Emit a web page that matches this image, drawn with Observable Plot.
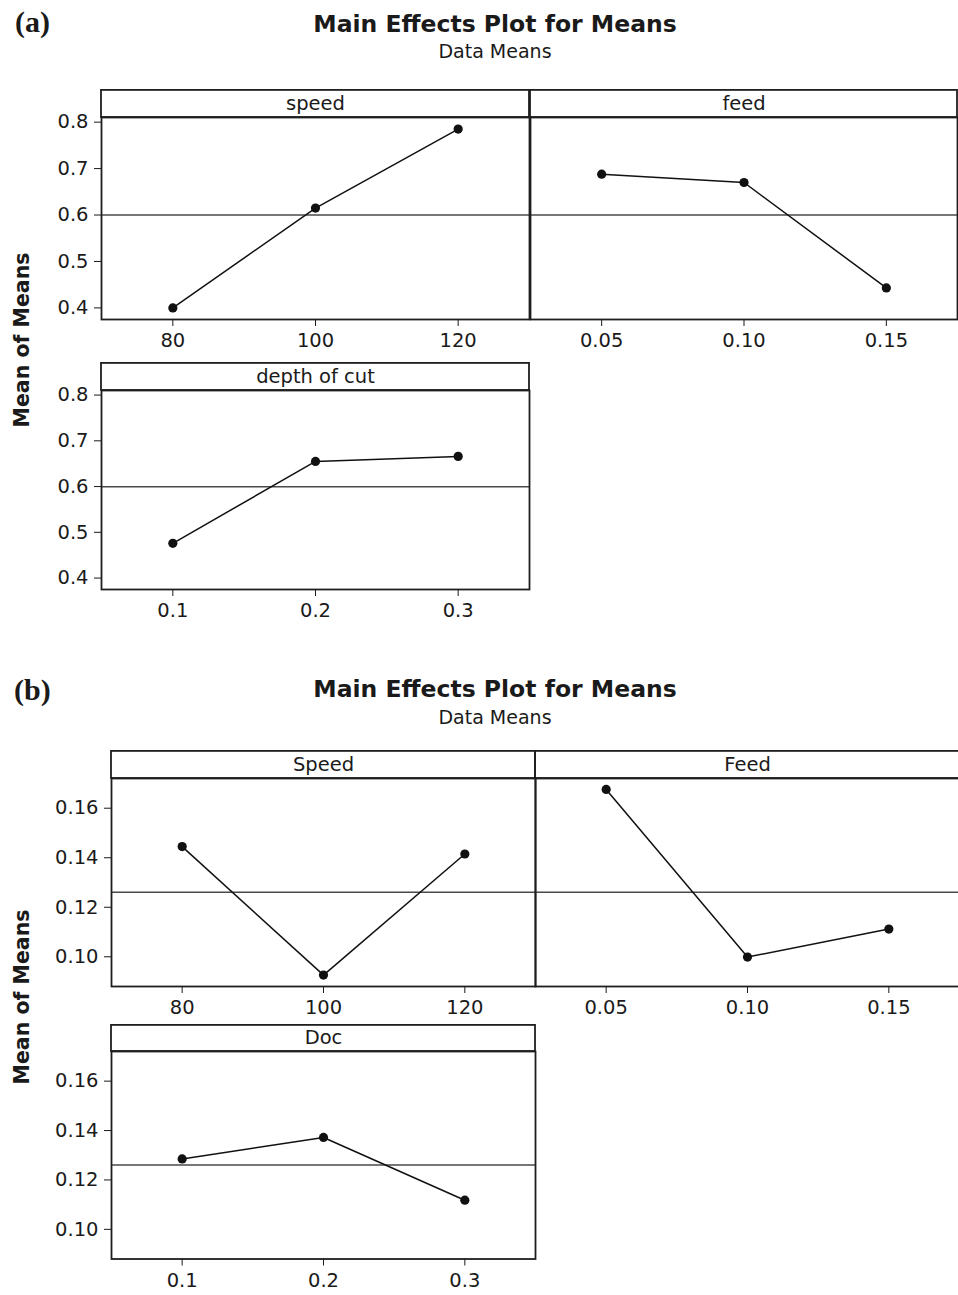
<!DOCTYPE html>
<html>
<head>
<meta charset="utf-8">
<script src="https://cdn.jsdelivr.net/npm/d3@7"></script>
<script src="https://cdn.jsdelivr.net/npm/@observablehq/plot@0.6"></script>
<style>
  html, body { margin: 0; padding: 0; background: #fff; }
  #page { position: relative; width: 958px; height: 1295px; overflow: hidden; font-family: "DejaVu Sans", sans-serif; color: #1a1a1a; }
  .abs { position: absolute; white-space: nowrap; line-height: 1; }
  .title { font-weight: bold; font-size: 23.5px; transform: translateX(-50%); }
  .subtitle { font-size: 19px; transform: translateX(-50%); }
  .tag { font-family: "Liberation Serif", serif; font-weight: bold; font-size: 30px; }
  .ylab { font-weight: bold; font-size: 20.5px; transform: translate(-50%, -50%) rotate(-90deg); }
  .panel { position: absolute; overflow: visible; }
  .panel text { font-size: 19.5px; }
</style>
</head>
<body>
<div id="page"></div>
<script>
// Factor levels
const speedLevels = [80, 100, 120];
const feedLevels = [0.05, 0.10, 0.15];
const docLevels = [0.1, 0.2, 0.3];

// (a) data means per level
const aSpeedMeans = [0.400, 0.615, 0.785];
const aFeedMeans = [0.688, 0.670, 0.443];
const aDocMeans = [0.476, 0.655, 0.666];

// (b) data means per level
const bSpeedMeans = [0.1445, 0.0926, 0.1415];
const bFeedMeans = [0.1676, 0.0999, 0.1112];
const bDocMeans = [0.1285, 0.1372, 0.1118];

// Axis ticks
const aYTicks = [0.4, 0.5, 0.6, 0.7, 0.8];
const bYTicks = [0.10, 0.12, 0.14, 0.16];

const page = document.getElementById("page");

function addText(cls, text, left, top) {
  const d = document.createElement("div");
  d.className = "abs " + cls;
  d.textContent = text;
  d.style.left = left + "px";
  d.style.top = top + "px";
  page.appendChild(d);
}

function drawPanel({levels, means, grand, label, xDomain, xFormat, yDomain, yTicks, yFormat, showY, left, top, plotW, plotH, stripH}) {
  const mL = showY ? 80 : 2, mR = 3, mB = 42;
  const data = levels.map((x, i) => ({x, y: means[i]}));
  const svg = Plot.plot({
    width: mL + plotW + mR,
    height: stripH + plotH + mB,
    marginTop: stripH, marginLeft: mL, marginRight: mR, marginBottom: mB,
    style: {fontFamily: "DejaVu Sans, sans-serif", fontSize: "19.5px", color: "#1a1a1a", background: "none", overflow: "visible"},
    x: {domain: xDomain, ticks: levels, tickFormat: xFormat, tickSize: 7, tickPadding: 7, label: null},
    y: {domain: yDomain, ticks: yTicks, tickFormat: yFormat, tickSize: 7, tickPadding: 6, label: null, axis: showY ? "left" : null},
    marks: [
      Plot.ruleY([grand], {stroke: "#4a4a4a", strokeWidth: 1.5}),
      Plot.line(data, {x: "x", y: "y", stroke: "#111", strokeWidth: 1.5}),
      Plot.dot(data, {x: "x", y: "y", r: 4.6, fill: "#111", stroke: "none"}),
      Plot.frame({stroke: "#1e1e1e", strokeWidth: 1.8}),
      Plot.text([label], {text: d => d, frameAnchor: "top", dy: -stripH / 2, lineAnchor: "middle", fill: "#1a1a1a"})
    ]
  });
  // header strip above the panel
  d3.select(svg).append("rect")
    .attr("x", mL).attr("y", 0.9)
    .attr("width", plotW).attr("height", stripH - 0.9)
    .attr("fill", "none").attr("stroke", "#1e1e1e").attr("stroke-width", 1.8);
  svg.classList.add("panel");
  svg.style.left = (left - mL) + "px";
  svg.style.top = top + "px";
  page.appendChild(svg);
}

const fmtInt = d3.format("d");
const fmt1 = d3.format(".1f");
const fmt2 = d3.format(".2f");

// ---- (a) ----
const aGrand = d3.mean([...aSpeedMeans, ...aFeedMeans, ...aDocMeans]);
const aY = [0.375, 0.81];
addText("tag", "(a)", 15, 7);
addText("title", "Main Effects Plot for Means", 495, 12.5);
addText("subtitle", "Data Means", 495, 42);
addText("ylab", "Mean of Means", 22, 340);

drawPanel({levels: speedLevels, means: aSpeedMeans, grand: aGrand, label: "speed",
  xDomain: [70, 130], xFormat: fmtInt, yDomain: aY, yTicks: aYTicks, yFormat: fmt1, showY: true,
  left: 101, top: 89, plotW: 428, plotH: 202, stripH: 28});
drawPanel({levels: feedLevels, means: aFeedMeans, grand: aGrand, label: "feed",
  xDomain: [0.025, 0.175], xFormat: fmt2, yDomain: aY, yTicks: aYTicks, yFormat: fmt1, showY: false,
  left: 530, top: 89, plotW: 427, plotH: 202, stripH: 28});
drawPanel({levels: docLevels, means: aDocMeans, grand: aGrand, label: "depth of cut",
  xDomain: [0.05, 0.35], xFormat: fmt1, yDomain: aY, yTicks: aYTicks, yFormat: fmt1, showY: true,
  left: 101, top: 361.5, plotW: 428, plotH: 199, stripH: 28});

// ---- (b) ----
const bGrand = d3.mean([...bSpeedMeans, ...bFeedMeans, ...bDocMeans]);
const bY = [0.088, 0.172];
addText("tag", "(b)", 14, 675);
addText("title", "Main Effects Plot for Means", 495, 678);
addText("subtitle", "Data Means", 495, 708);
addText("ylab", "Mean of Means", 22, 997);

drawPanel({levels: speedLevels, means: bSpeedMeans, grand: bGrand, label: "Speed",
  xDomain: [70, 130], xFormat: fmtInt, yDomain: bY, yTicks: bYTicks, yFormat: fmt2, showY: true,
  left: 111, top: 749.5, plotW: 424, plotH: 208, stripH: 28});
drawPanel({levels: feedLevels, means: bFeedMeans, grand: bGrand, label: "Feed",
  xDomain: [0.025, 0.175], xFormat: fmt2, yDomain: bY, yTicks: bYTicks, yFormat: fmt2, showY: false,
  left: 535, top: 749.5, plotW: 424, plotH: 208, stripH: 28});
drawPanel({levels: docLevels, means: bDocMeans, grand: bGrand, label: "Doc",
  xDomain: [0.05, 0.35], xFormat: fmt1, yDomain: bY, yTicks: bYTicks, yFormat: fmt2, showY: true,
  left: 111, top: 1024, plotW: 424, plotH: 207.5, stripH: 27});
</script>
</body>
</html>
